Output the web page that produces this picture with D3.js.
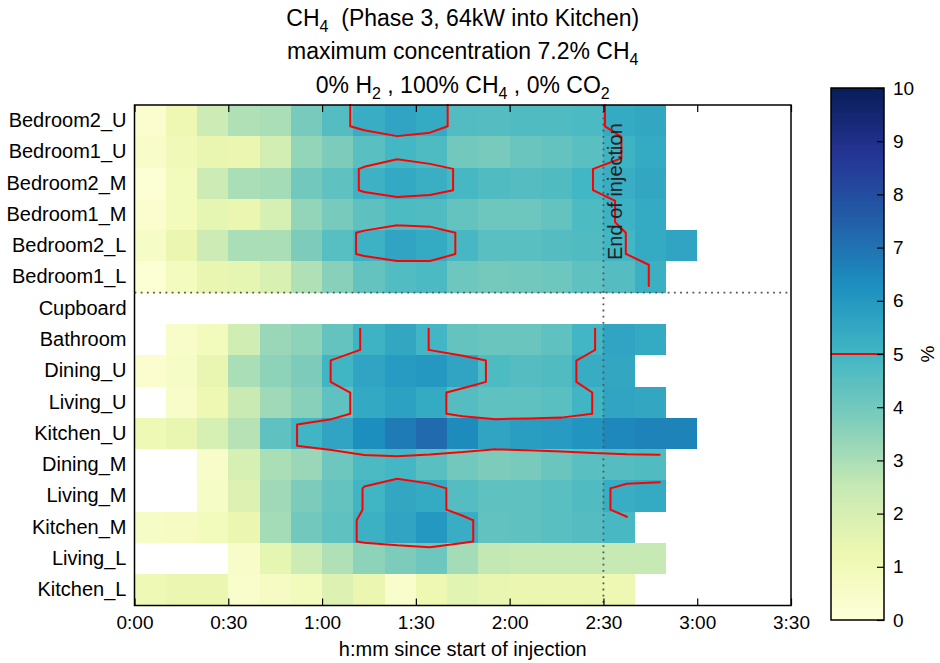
<!DOCTYPE html>
<html>
<head>
<meta charset="utf-8">
<script src="https://cdn.jsdelivr.net/npm/d3@7"></script>
<style>
body { margin: 0; background: #fff; }
svg { font-family: "Liberation Sans", Arial, sans-serif; }
</style>
</head>
<body>
<svg id="chart" width="940" height="663"></svg>
<script>
// rooms, top to bottom
const rooms = ["Bedroom2_U", "Bedroom1_U", "Bedroom2_M", "Bedroom1_M", "Bedroom2_L", "Bedroom1_L",
    "Cupboard", "Bathroom", "Dining_U", "Living_U", "Kitchen_U", "Dining_M", "Living_M",
    "Kitchen_M", "Living_L", "Kitchen_L"];

// % CH4 in each 10 minute bin from 0:00 (null = no reading)
const bedroom2U = [0.3, 1.2, 2.3, 2.9, 3.0, 3.9, 4.6, 5.3, 5.6, 5.4, 4.66, 4.6, 4.7, 4.7, 4.8, 5.4, 5.5, null];
const bedroom1U = [0.5, 1.0, 1.4, 1.3, 2.1, 3.4, 3.8, 4.5, 4.95, 4.73, 4.0, 3.9, 4.2, 4.3, 4.5, 5.1, 5.4, null];
const bedroom2M = [0.2, 0.9, 2.3, 3.0, 3.1, 4.0, 4.4, 5.12, 5.45, 5.24, 4.9, 4.7, 4.6, 4.7, 5.01, 5.3, 5.5, null];
const bedroom1M = [0.3, 0.9, 1.5, 1.3, 2.0, 3.4, 3.9, 4.41, 4.75, 4.7, 4.3, 4.1, 4.1, 4.3, 4.75, 5.14, 5.4, null];
const bedroom2L = [0.6, 1.3, 2.3, 3.0, 3.0, 3.8, 4.55, 5.15, 5.6, 5.41, 4.88, 4.5, 4.5, 4.6, 4.7, 5.01, 5.4, 5.6];
const bedroom1L = [0.2, 0.8, 1.4, 1.5, 1.9, 2.9, 3.6, 4.3, 4.68, 4.78, 4.1, 3.95, 4.0, 4.1, 4.4, 4.6, 5.2, null];
const cupboard  = [null, null, null, null, null, null, null, null, null, null, null, null, null, null, null, null, null, null];
const bathroom  = [null, 0.5, 0.9, 2.2, 3.3, 3.5, 4.3, 5.1, 5.5, 4.98, 4.3, 4.2, 4.2, 4.4, 4.98, 5.6, 5.4, null];
const diningU   = [0.3, 0.6, 1.4, 3.0, 3.5, 3.8, 5.03, 5.6, 5.9, 6.0, 5.6, 4.75, 4.6, 4.7, 5.35, 5.5, null, null];
const livingU   = [null, 0.5, 1.2, 2.4, 3.2, 3.6, 4.4, 5.45, 5.7, 5.4, 4.6, 4.4, 4.4, 4.5, 5.03, 5.6, 5.5, null];
const kitchenU  = [1.1, 1.4, 2.0, 2.8, 4.4, 5.03, 5.6, 6.3, 6.8, 7.2, 6.4, 5.6, 5.8, 5.9, 6.1, 6.5, 6.6, 6.6];
const diningM   = [null, null, 0.5, 2.0, 3.0, 3.3, 4.1, 4.8, 4.95, 4.5, 4.0, 3.8, 3.9, 4.2, 4.5, 4.6, 4.7, null];
const livingM   = [null, null, 0.6, 1.8, 3.2, 3.8, 4.3, 5.04, 5.5, 5.4, 4.6, 4.4, 4.4, 4.5, 4.7, 5.3, 5.4, null];
const kitchenM  = [0.6, 0.7, 0.9, 1.3, 3.1, 4.0, 4.4, 5.18, 5.6, 6.0, 5.3, 4.36, 4.4, 4.5, 4.6, 4.85, null, null];
const livingL   = [null, null, null, 0.5, 1.5, 2.3, 2.9, 3.5, 3.8, 4.1, 3.1, 2.55, 2.5, 2.5, 2.5, 2.5, 2.5, null];
const kitchenL  = [1.1, 1.3, 1.3, 0.4, 0.7, 0.9, 1.8, 1.3, 0.4, 1.2, 1.6, 1.4, 1.3, 1.3, 1.3, 1.2, null, null];

const series = [bedroom2U, bedroom1U, bedroom2M, bedroom1M, bedroom2L, bedroom1L, cupboard, bathroom,
    diningU, livingU, kitchenU, diningM, livingM, kitchenM, livingL, kitchenL];

const binMinutes = 10;
const timeTicks = [0, 30, 60, 90, 120, 150, 180, 210];
const endOfInjection = 150;
const level = 5;
const colourTicks = [0, 1, 2, 3, 4, 5, 6, 7, 8, 9, 10];
const ylgnbu = ["#ffffd9", "#edf8b1", "#c7e9b4", "#7fcdbb", "#41b6c4", "#1d91c0", "#225ea8", "#253494", "#081d58"];

const svg = d3.select("#chart");
const plot = {left: 134.5, right: 791, top: 105, bottom: 605.5};

const x = d3.scaleLinear().domain([0, 210]).range([plot.left, plot.right]);
const y = d3.scaleBand().domain(rooms).range([plot.top, plot.bottom]);
const color = d3.scaleLinear()
    .domain(ylgnbu.map((c, i) => i * 10 / (ylgnbu.length - 1)))
    .range(ylgnbu)
    .clamp(true);

const hm = d => `${Math.floor(d / 60)}:${String(d % 60).padStart(2, "0")}`;

// cells
const cells = [];
series.forEach((row, r) => row.forEach((v, j) => {
    if (v != null) cells.push({room: rooms[r], j, v});
}));

svg.append("g")
    .attr("shape-rendering", "crispEdges")
    .selectAll("rect")
    .data(cells)
    .join("rect")
        .attr("x", d => x(d.j * binMinutes))
        .attr("y", d => y(d.room))
        .attr("width", x(binMinutes) - x(0))
        .attr("height", y.bandwidth())
        .attr("fill", d => color(d.v));

// 5% contour: every row is repeated three times and the grid is stretched over the whole axes
const nCols = (x.domain()[1] - x.domain()[0]) / binMinutes;
const nSub = rooms.length * 3;
const grid = d3.range(nSub).map(m => d3.range(nCols).map(k => {
    const v = series[Math.floor(m / 3)][k];
    return v == null ? NaN : v;
}));
const gx = d3.scaleLinear().domain([0, nCols - 1]).range(x.range());
const gy = d3.scaleLinear().domain([0, nSub - 1]).range(y.range());

let segments = [];
for (let m = 0; m < nSub - 1; m++) {
    for (let k = 0; k < nCols - 1; k++) {
        const tl = grid[m][k], tr = grid[m][k + 1], br = grid[m + 1][k + 1], bl = grid[m + 1][k];
        if ([tl, tr, br, bl].some(isNaN)) continue;
        const code = (tl > level ? 8 : 0) | (tr > level ? 4 : 0) | (br > level ? 2 : 0) | (bl > level ? 1 : 0);
        if (code === 0 || code === 15) continue;
        const top = [k + (level - tl) / (tr - tl), m];
        const bottom = [k + (level - bl) / (br - bl), m + 1];
        const left = [k, m + (level - tl) / (bl - tl)];
        const right = [k + 1, m + (level - tr) / (br - tr)];
        const centre = (tl + tr + br + bl) / 4 > level;
        switch (code) {
            case 1: case 14: segments.push([left, bottom]); break;
            case 2: case 13: segments.push([bottom, right]); break;
            case 3: case 12: segments.push([left, right]); break;
            case 4: case 11: segments.push([top, right]); break;
            case 6: case 9: segments.push([top, bottom]); break;
            case 7: case 8: segments.push([left, top]); break;
            case 5: segments.push(...(centre ? [[left, top], [bottom, right]] : [[top, right], [left, bottom]])); break;
            case 10: segments.push(...(centre ? [[top, right], [left, bottom]] : [[left, top], [bottom, right]])); break;
        }
    }
}

svg.append("path")
    .attr("d", segments.map(([a, b]) => `M${gx(a[0])},${gy(a[1])}L${gx(b[0])},${gy(b[1])}`).join(""))
    .attr("fill", "none")
    .attr("stroke", "#ff0000")
    .attr("stroke-width", 2)
    .attr("stroke-linecap", "round")
    .attr("stroke-linejoin", "round");

// dotted separators
svg.append("line")
    .attr("x1", plot.left).attr("x2", plot.right)
    .attr("y1", y("Cupboard")).attr("y2", y("Cupboard"))
    .attr("stroke", "#555").attr("stroke-width", 1.8).attr("stroke-dasharray", "1.8,4.4");
svg.append("line")
    .attr("x1", x(endOfInjection)).attr("x2", x(endOfInjection))
    .attr("y1", plot.top).attr("y2", plot.bottom)
    .attr("stroke", "#555").attr("stroke-width", 1.8).attr("stroke-dasharray", "1.8,4.4");

svg.append("text")
    .attr("transform", `translate(${x(endOfInjection) + 19},260) rotate(-90)`)
    .attr("font-size", 20)
    .attr("fill", "#222")
    .text("End of injection");

// axes
const xAxis = svg.append("g")
    .attr("transform", `translate(0,${plot.bottom})`)
    .call(d3.axisBottom(x).tickValues(timeTicks).tickFormat(hm).tickSizeInner(-7).tickSizeOuter(0).tickPadding(10));
xAxis.selectAll("text").attr("font-size", 19).attr("fill", "#000");

const xTop = svg.append("g")
    .attr("transform", `translate(0,${plot.top})`)
    .call(d3.axisTop(x).tickValues(timeTicks).tickFormat("").tickSizeInner(-7).tickSizeOuter(0));

const yAxis = svg.append("g")
    .attr("transform", `translate(${plot.left},0)`)
    .call(d3.axisLeft(y).tickSize(0).tickPadding(8));
yAxis.selectAll("text").attr("font-size", 20).attr("fill", "#000");

svg.selectAll(".domain").remove();
svg.selectAll(".tick line").attr("stroke", "#000").attr("stroke-width", 1.2);

svg.append("rect")
    .attr("x", plot.left).attr("y", plot.top)
    .attr("width", plot.right - plot.left).attr("height", plot.bottom - plot.top)
    .attr("fill", "none").attr("stroke", "#000").attr("stroke-width", 1.5);

svg.append("text")
    .attr("x", (plot.left + plot.right) / 2).attr("y", 656)
    .attr("text-anchor", "middle").attr("font-size", 20)
    .text("h:mm since start of injection");

// title
const titleLines = [
    [["CH", 0], ["4", 1], ["  (Phase 3, 64kW into Kitchen)", 0]],
    [["maximum concentration 7.2% CH", 0], ["4", 1]],
    [["0% H", 0], ["2", 1], [" , 100% CH", 0], ["4", 1], [" , 0% CO", 0], ["2", 1]]
];
const titleY = [26, 59, 93];
titleLines.forEach((parts, i) => {
    const t = svg.append("text")
        .attr("x", (plot.left + plot.right) / 2).attr("y", titleY[i])
        .attr("text-anchor", "middle").attr("font-size", 23)
        .style("white-space", "pre");
    parts.forEach(([s, sub], p) => {
        const prevSub = p > 0 && parts[p - 1][1];
        t.append("tspan")
            .attr("font-size", sub ? 16 : 23)
            .attr("dy", sub ? 6 : (prevSub ? -6 : 0))
            .text(s);
    });
});

// colour bar
const cb = {left: 831, right: 884, top: 88, bottom: 620};
const cbScale = d3.scaleLinear().domain([0, 10]).range([cb.bottom, cb.top]);

const grad = svg.append("defs").append("linearGradient")
    .attr("id", "cbgrad").attr("x1", 0).attr("y1", 1).attr("x2", 0).attr("y2", 0);
grad.selectAll("stop")
    .data(color.domain())
    .join("stop")
        .attr("offset", d => d / 10)
        .attr("stop-color", d => color(d));

svg.append("rect")
    .attr("x", cb.left).attr("y", cb.top)
    .attr("width", cb.right - cb.left).attr("height", cb.bottom - cb.top)
    .attr("fill", "url(#cbgrad)");

svg.append("line")
    .attr("x1", cb.left).attr("x2", cb.right)
    .attr("y1", cbScale(level)).attr("y2", cbScale(level))
    .attr("stroke", "#ff0000").attr("stroke-width", 2);

const cbAxis = svg.append("g")
    .attr("transform", `translate(${cb.right},0)`)
    .call(d3.axisRight(cbScale).tickValues(colourTicks).tickFormat(d3.format("d")).tickSizeInner(-7).tickSizeOuter(0).tickPadding(9));
cbAxis.select(".domain").remove();
cbAxis.selectAll("text").attr("font-size", 19).attr("fill", "#000");
cbAxis.selectAll(".tick line").attr("stroke", "#000").attr("stroke-width", 1.2);

svg.append("rect")
    .attr("x", cb.left).attr("y", cb.top)
    .attr("width", cb.right - cb.left).attr("height", cb.bottom - cb.top)
    .attr("fill", "none").attr("stroke", "#000").attr("stroke-width", 1.5);

svg.append("text")
    .attr("transform", `translate(934,${(cb.top + cb.bottom) / 2}) rotate(-90)`)
    .attr("text-anchor", "middle").attr("font-size", 19)
    .text("%");
</script>
</body>
</html>
